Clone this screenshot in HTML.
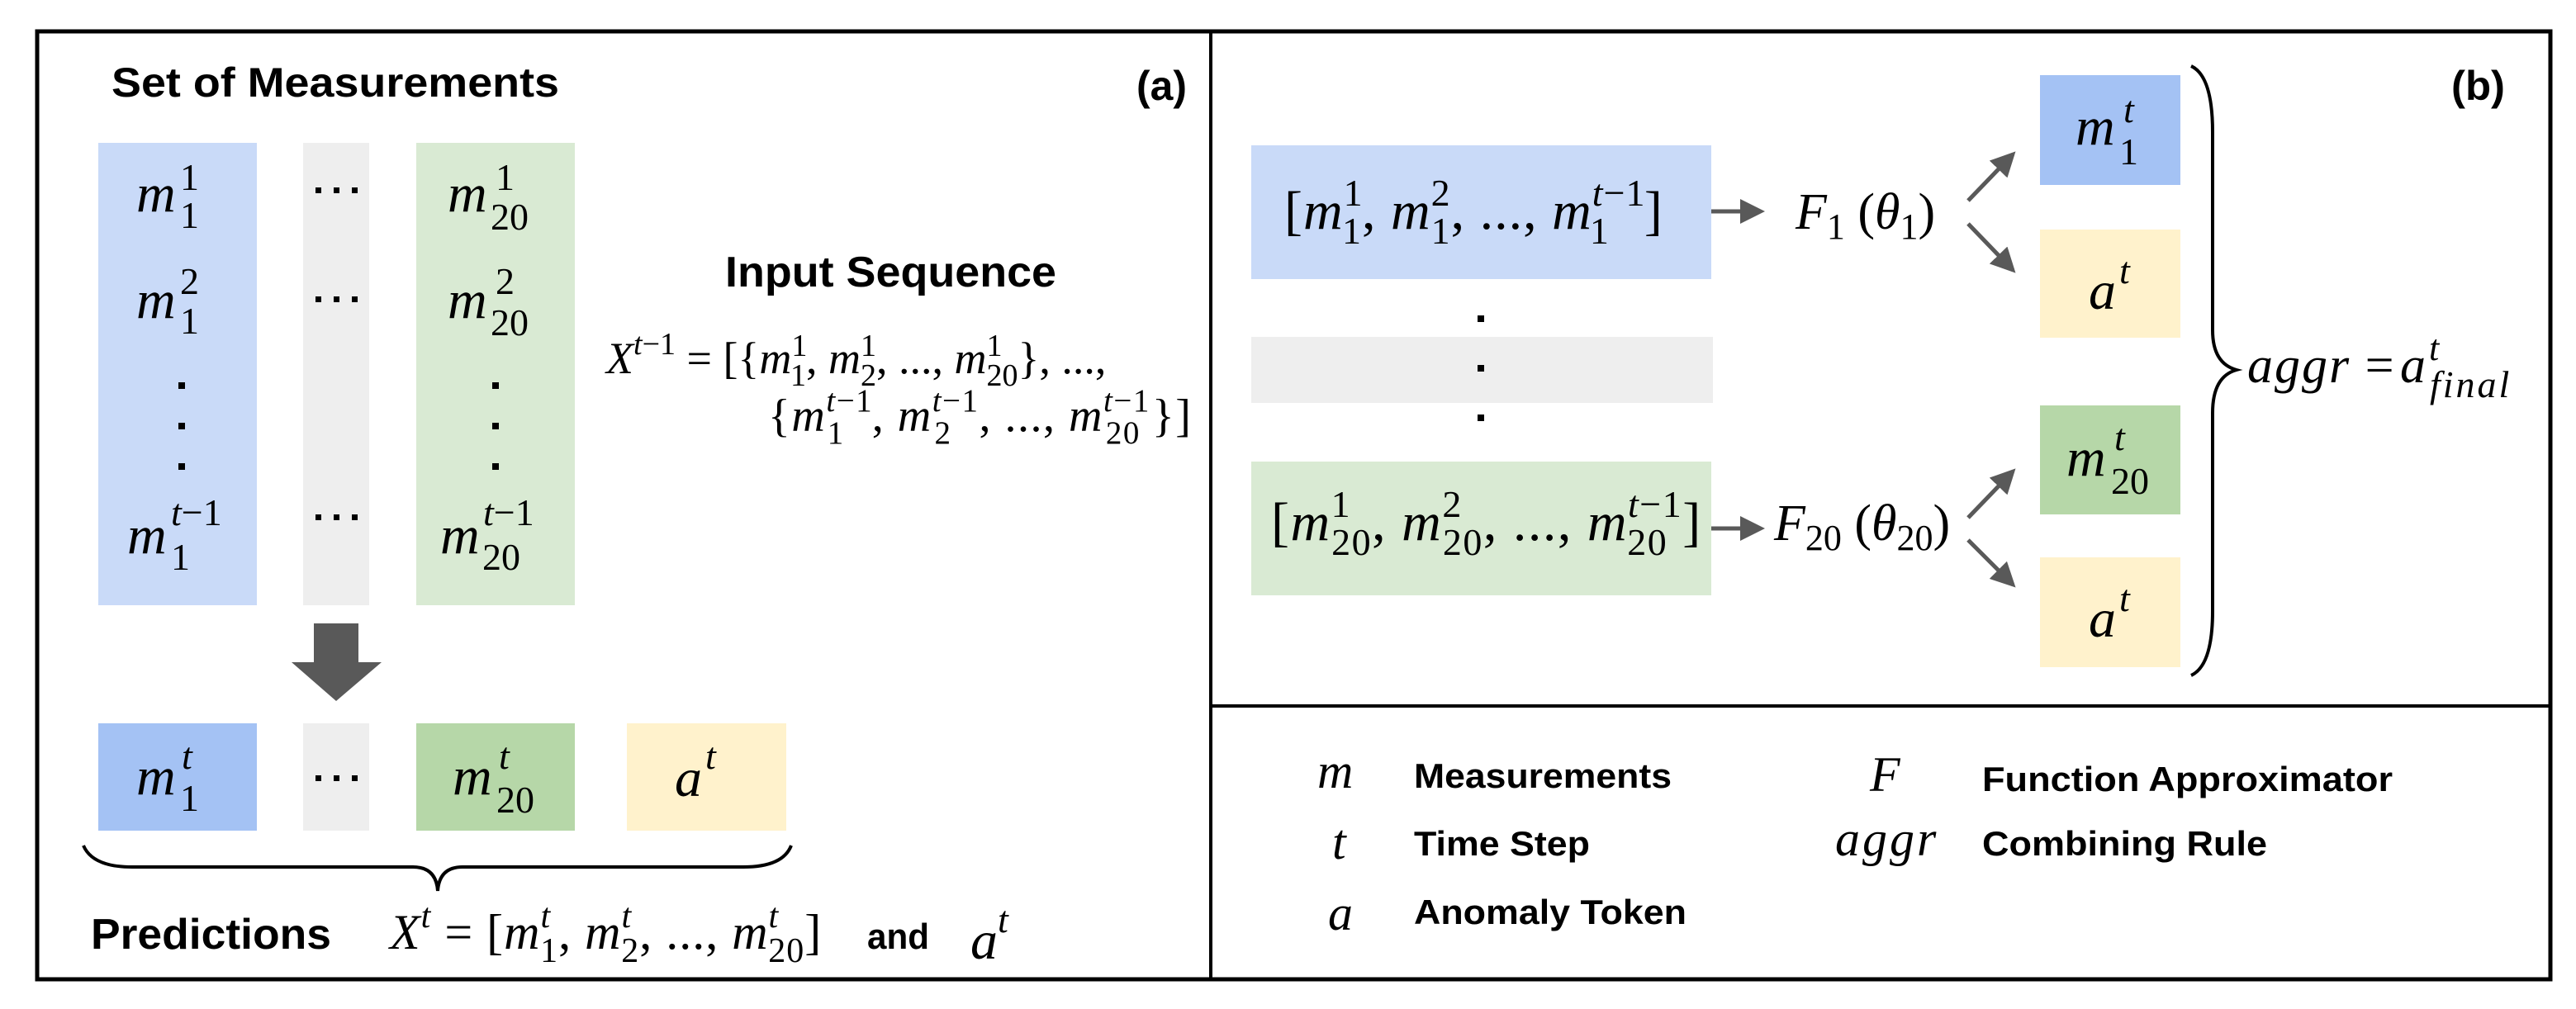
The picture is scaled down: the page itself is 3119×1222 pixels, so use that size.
<!DOCTYPE html>
<html><head><meta charset="utf-8"><style>
html,body{margin:0;padding:0;background:#fff}
svg{display:block}
.s{font-family:"Liberation Serif",serif}
.b{font-family:"Liberation Sans",sans-serif;font-weight:bold}
.i{font-style:italic}
</style></head><body>
<svg width="3119" height="1222" viewBox="0 0 3119 1222" xmlns="http://www.w3.org/2000/svg">
<defs><marker id="ah" markerWidth="6" markerHeight="6" refX="5" refY="3" orient="auto" markerUnits="strokeWidth"><path d="M0,0 L6,3 L0,6 z" fill="#595959"/></marker></defs>
<rect x="45" y="38" width="3043" height="1148" fill="none" stroke="#000" stroke-width="5"/>
<line x1="1466" y1="38" x2="1466" y2="1186" stroke="#000" stroke-width="4"/>
<line x1="1466" y1="855" x2="3088" y2="855" stroke="#000" stroke-width="4"/>

<text class="b" x="135" y="117" font-size="50" textLength="542" lengthAdjust="spacingAndGlyphs">Set of Measurements</text>
<text class="b" x="1376" y="121" font-size="50" textLength="61" lengthAdjust="spacingAndGlyphs">(a)</text>

<rect x="119" y="173" width="192" height="560" fill="#c9daf8"/>
<rect x="367" y="173" width="80" height="560" fill="#eeeeee"/>
<rect x="504" y="173" width="192" height="560" fill="#d9ead3"/>

<rect x="119" y="876" width="192" height="130" fill="#a4c2f4"/>
<rect x="367" y="876" width="80" height="130" fill="#eeeeee"/>
<rect x="504" y="876" width="192" height="130" fill="#b6d7a8"/>
<rect x="759" y="876" width="193" height="130" fill="#fff2cc"/>

<g class="s" font-size="66">
<text x="165" y="256"><tspan class="i">m</tspan></text>
<text x="218" y="230" font-size="46">1</text><text x="218" y="276" font-size="46">1</text>
<text x="165" y="385"><tspan class="i">m</tspan></text>
<text x="218" y="356" font-size="46">2</text><text x="218" y="404" font-size="46">1</text>
<text x="154" y="670"><tspan class="i">m</tspan></text>
<text x="207" y="636" font-size="46"><tspan class="i">t</tspan>−1</text><text x="207" y="690" font-size="46">1</text>

<text x="542" y="256"><tspan class="i">m</tspan></text>
<text x="600" y="230" font-size="46">1</text><text x="594" y="278" font-size="46">20</text>
<text x="542" y="385"><tspan class="i">m</tspan></text>
<text x="600" y="356" font-size="46">2</text><text x="594" y="406" font-size="46">20</text>
<text x="533" y="670"><tspan class="i">m</tspan></text>
<text x="585" y="636" font-size="46"><tspan class="i">t</tspan>−1</text><text x="584" y="690" font-size="46">20</text>
</g>
<g fill="#000">
<rect x="216" y="463" width="8" height="8"/><rect x="216" y="512" width="8" height="8"/><rect x="216" y="561" width="8" height="8"/>
<rect x="596" y="463" width="8" height="8"/><rect x="596" y="512" width="8" height="8"/><rect x="596" y="561" width="8" height="8"/>
<g id="d3"><rect x="382" y="227" width="7" height="7"/><rect x="404" y="227" width="7" height="7"/><rect x="426" y="227" width="7" height="7"/></g>
<use href="#d3" y="132"/><use href="#d3" y="396"/><use href="#d3" y="712"/>
</g>

<path d="M380,755 H434 V802 H462 L407,849 L353,802 H380 Z" fill="#595959"/>

<g class="s" font-size="66">
<text x="165" y="962"><tspan class="i">m</tspan></text>
<text x="220" y="931" font-size="46" class="i">t</text><text x="218" y="982" font-size="46">1</text>
<text x="548" y="962"><tspan class="i">m</tspan></text>
<text x="604" y="931" font-size="46" class="i">t</text><text x="601" y="984" font-size="46">20</text>
<text x="817" y="964" class="i">a</text>
<text x="854" y="931" font-size="46" class="i">t</text>
</g>

<path d="M101,1024 Q112,1050 160,1050 H500 Q528,1050 530,1079 Q532,1050 560,1050 H900 Q948,1050 958,1024" fill="none" stroke="#000" stroke-width="4"/>

<text class="b" x="110" y="1149" font-size="52" textLength="291" lengthAdjust="spacingAndGlyphs">Predictions</text>
<text class="s" x="472" y="1149" font-size="60" letter-spacing="1"><tspan class="i">X</tspan><tspan font-size="42" dy="-26" class="i">t</tspan><tspan dy="26"> = [</tspan><tspan class="i">m</tspan><tspan font-size="42" dy="-26" class="i">t</tspan><tspan font-size="42" dx="-13" dy="42">1</tspan><tspan dy="-16">, </tspan><tspan class="i">m</tspan><tspan font-size="42" dy="-26" class="i">t</tspan><tspan font-size="42" dx="-13" dy="42">2</tspan><tspan dy="-16">, ..., </tspan><tspan class="i">m</tspan><tspan font-size="42" dy="-26" class="i">t</tspan><tspan font-size="42" dx="-13" dy="42">20</tspan><tspan dy="-16">]</tspan></text>
<text class="b" x="1050" y="1149" font-size="44" textLength="75" lengthAdjust="spacingAndGlyphs">and</text>
<text class="s" x="1175" y="1161" font-size="66"><tspan class="i">a</tspan><tspan font-size="46" dy="-32" class="i">t</tspan></text>

<text class="b" x="878" y="347" font-size="52" textLength="401" lengthAdjust="spacingAndGlyphs">Input Sequence</text>
<text class="s" x="734" y="452" font-size="54"><tspan class="i">X</tspan><tspan font-size="38" dy="-23" class="i">t</tspan><tspan font-size="38">−1</tspan><tspan dy="23"> = [{</tspan><tspan class="i">m</tspan><tspan font-size="38" dy="-21">1</tspan><tspan font-size="38" dx="-19" dy="36">1</tspan><tspan dy="-15">, </tspan><tspan class="i">m</tspan><tspan font-size="38" dy="-21">1</tspan><tspan font-size="38" dx="-19" dy="36">2</tspan><tspan dy="-15">, ..., </tspan><tspan class="i">m</tspan><tspan font-size="38" dy="-21">1</tspan><tspan font-size="38" dx="-19" dy="36">20</tspan><tspan dy="-15">}, ...,</tspan></text>
<text class="s" x="930" y="522" font-size="56" letter-spacing="1.5"><tspan>{</tspan><tspan class="i">m</tspan><tspan font-size="39" dy="-24" class="i">t</tspan><tspan font-size="39">−1</tspan><tspan font-size="39" dx="-54" dy="39">1</tspan><tspan dx="33" dy="-15">, </tspan><tspan class="i">m</tspan><tspan font-size="39" dy="-24" class="i">t</tspan><tspan font-size="39">−1</tspan><tspan font-size="39" dx="-54" dy="39">2</tspan><tspan dx="33" dy="-15">, ..., </tspan><tspan class="i">m</tspan><tspan font-size="39" dy="-24" class="i">t</tspan><tspan font-size="39">−1</tspan><tspan font-size="39" dx="-54" dy="39">20</tspan><tspan dx="14" dy="-15">}]</tspan></text>

<text class="b" x="2968" y="121" font-size="50" textLength="65" lengthAdjust="spacingAndGlyphs">(b)</text>
<rect x="1515" y="176" width="557" height="162" fill="#c9daf8"/>
<rect x="1515" y="408" width="559" height="80" fill="#eeeeee"/>
<rect x="1515" y="559" width="557" height="162" fill="#d9ead3"/>
<g fill="#000"><rect x="1789" y="382" width="8" height="8"/><rect x="1789" y="442" width="8" height="8"/><rect x="1789" y="502" width="8" height="8"/></g>

<text class="s" x="1555" y="277" font-size="66" letter-spacing="1"><tspan>[</tspan><tspan class="i">m</tspan><tspan font-size="46" dy="-28">1</tspan><tspan font-size="46" dx="-24" dy="46">1</tspan><tspan dy="-18">, </tspan><tspan class="i">m</tspan><tspan font-size="46" dy="-28">2</tspan><tspan font-size="46" dx="-24" dy="46">1</tspan><tspan dy="-18">, ..., </tspan><tspan class="i">m</tspan><tspan font-size="46" dy="-28" class="i">t</tspan><tspan font-size="46">−1</tspan><tspan font-size="46" dx="-66" dy="46">1</tspan><tspan dx="42" dy="-18">]</tspan></text>
<text class="s" x="1539" y="654" font-size="66" letter-spacing="1.5"><tspan>[</tspan><tspan class="i">m</tspan><tspan font-size="46" dy="-28">1</tspan><tspan font-size="46" dx="-24" dy="46">20</tspan><tspan dy="-18">, </tspan><tspan class="i">m</tspan><tspan font-size="46" dy="-28">2</tspan><tspan font-size="46" dx="-24" dy="46">20</tspan><tspan dy="-18">, ..., </tspan><tspan class="i">m</tspan><tspan font-size="46" dy="-28" class="i">t</tspan><tspan font-size="46">−1</tspan><tspan font-size="46" dx="-67" dy="46">20</tspan><tspan dx="18" dy="-18">]</tspan></text>

<g stroke="#595959" stroke-width="5" marker-end="url(#ah)" fill="none">
<line x1="2072" y1="256" x2="2132" y2="256"/>
<line x1="2072" y1="640" x2="2132" y2="640"/>
<line x1="2383" y1="243" x2="2437" y2="187"/>
<line x1="2383" y1="271" x2="2437" y2="327"/>
<line x1="2383" y1="627" x2="2437" y2="571"/>
<line x1="2383" y1="654" x2="2437" y2="708"/>
</g>

<text class="s" x="2174" y="277" font-size="62"><tspan class="i">F</tspan><tspan font-size="44" dy="12">1</tspan><tspan dy="-12"> (</tspan><tspan class="i">θ</tspan><tspan font-size="44" dy="12">1</tspan><tspan dy="-12">)</tspan></text>
<text class="s" x="2148" y="654" font-size="62"><tspan class="i">F</tspan><tspan font-size="44" dy="12">20</tspan><tspan dy="-12"> (</tspan><tspan class="i">θ</tspan><tspan font-size="44" dy="12">20</tspan><tspan dy="-12">)</tspan></text>

<rect x="2470" y="91" width="170" height="133" fill="#a4c2f4"/>
<rect x="2470" y="278" width="170" height="131" fill="#fff2cc"/>
<rect x="2470" y="491" width="170" height="132" fill="#b6d7a8"/>
<rect x="2470" y="675" width="170" height="133" fill="#fff2cc"/>
<g class="s" font-size="66">
<text x="2513" y="175" class="i">m</text><text x="2571" y="148" font-size="46" class="i">t</text><text x="2566" y="199" font-size="46">1</text>
<text x="2529" y="374" class="i">a</text><text x="2566" y="343" font-size="46" class="i">t</text>
<text x="2502" y="576" class="i">m</text><text x="2560" y="545" font-size="46" class="i">t</text><text x="2556" y="598" font-size="46">20</text>
<text x="2529" y="771" class="i">a</text><text x="2566" y="740" font-size="46" class="i">t</text>
</g>

<path d="M2653,80 Q2679,92 2679,160 V400 Q2679,440 2708,448 Q2679,456 2679,500 V740 Q2679,806 2653,818" fill="none" stroke="#000" stroke-width="4"/>
<text class="s" x="2721" y="463" font-size="62" letter-spacing="2"><tspan class="i">aggr</tspan> =</text>
<text class="s i" x="2906" y="463" font-size="62">a</text>
<text class="s i" x="2941" y="436" font-size="44">t</text>
<text class="s i" x="2942" y="481" font-size="46" letter-spacing="3">final</text>

<g class="s i" font-size="60">
<text x="1595" y="954">m</text>
<text x="1613" y="1040">t</text>
<text x="1608" y="1126">a</text>
<text x="2264" y="958">F</text>
<text x="2222" y="1036" letter-spacing="3">aggr</text>
</g>
<g class="b" font-size="42">
<text x="1712" y="954" textLength="312" lengthAdjust="spacingAndGlyphs">Measurements</text>
<text x="1712" y="1036" textLength="213" lengthAdjust="spacingAndGlyphs">Time Step</text>
<text x="1712" y="1119" textLength="330" lengthAdjust="spacingAndGlyphs">Anomaly Token</text>
<text x="2400" y="958" textLength="497" lengthAdjust="spacingAndGlyphs">Function Approximator</text>
<text x="2400" y="1036" textLength="345" lengthAdjust="spacingAndGlyphs">Combining Rule</text>
</g>
</svg>
</body></html>
